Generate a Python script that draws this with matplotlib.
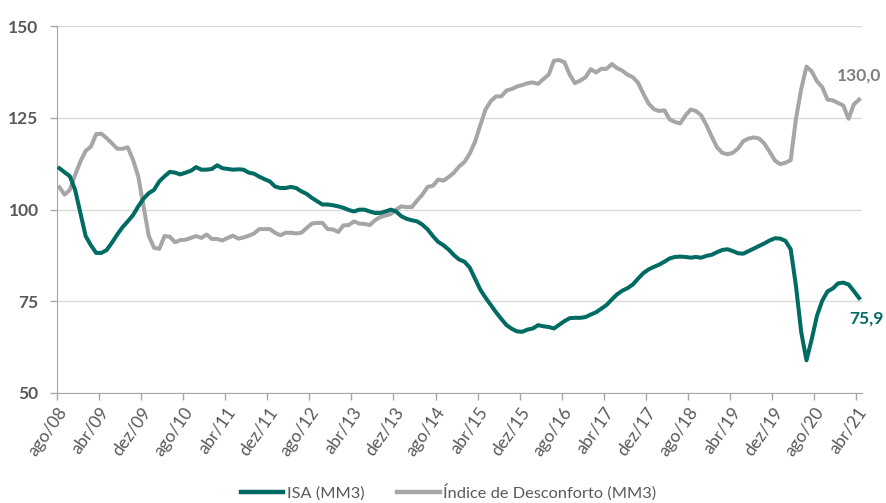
import matplotlib
matplotlib.use("Agg")
import matplotlib.pyplot as plt
from matplotlib.lines import Line2D

# ---------------- data ----------------
tick_labels = ["ago/08", "abr/09", "dez/09", "ago/10", "abr/11", "dez/11", "ago/12",
               "abr/13", "dez/13", "ago/14", "abr/15", "dez/15", "ago/16", "abr/17",
               "dez/17", "ago/18", "abr/19", "dez/19", "ago/20", "abr/21"]

isa = [111.3, 110.2, 109.1, 105.4, 99.1, 92.8, 90.3, 88.2, 88.2, 89.0,
       91.0, 93.2, 95.2, 96.8, 98.5, 100.9, 103.0, 104.5, 105.4, 107.7,
       109.1, 110.3, 110.1, 109.6, 110.1, 110.6, 111.6, 110.9, 110.9, 111.1,
       112.1, 111.3, 111.1, 110.9, 111.0, 110.9, 110.1, 109.8, 109.0, 108.3,
       107.7, 106.3, 105.9, 105.9, 106.2, 105.9, 105.0, 104.3, 103.2, 102.3,
       101.4, 101.4, 101.2, 100.9, 100.5, 99.9, 99.5, 100.0, 100.0, 99.5,
       99.1, 99.1, 99.5, 100.0, 99.5, 98.2, 97.5, 97.1, 96.8, 95.9,
       94.6, 92.8, 91.2, 90.3, 89.1, 87.6, 86.4, 85.8, 84.2, 81.2,
       78.2, 76.0, 74.0, 72.0, 70.2, 68.5, 67.5, 66.8, 66.7, 67.3,
       67.6, 68.5, 68.2, 68.0, 67.6, 68.6, 69.6, 70.4, 70.5, 70.5,
       70.7, 71.4, 72.0, 73.0, 74.0, 75.5, 76.9, 77.9, 78.6, 79.6,
       81.2, 82.7, 83.7, 84.4, 85.0, 85.8, 86.7, 87.1, 87.2, 87.1,
       86.9, 87.1, 86.9, 87.4, 87.7, 88.4, 89.0, 89.2, 88.7, 88.1,
       88.0, 88.7, 89.4, 90.1, 90.8, 91.6, 92.2, 92.1, 91.5, 89.2,
       79.2, 66.6, 58.9, 64.7, 71.1, 75.2, 77.7, 78.5, 79.9, 80.1,
       79.6, 77.8, 75.9]

desconforto = [106.1, 104.1, 105.4, 109.5, 113.1, 116.0, 117.2, 120.6, 120.7, 119.5,
               118.1, 116.6, 116.6, 117.0, 113.6, 109.1, 100.9, 92.8, 89.6, 89.3,
               92.8, 92.6, 91.1, 91.7, 91.8, 92.3, 92.8, 92.3, 93.2, 92.0,
               92.0, 91.6, 92.3, 92.9, 92.1, 92.4, 92.9, 93.5, 94.7, 94.7,
               94.7, 93.7, 93.0, 93.7, 93.7, 93.5, 93.7, 95.0, 96.2, 96.4,
               96.4, 94.7, 94.6, 93.9, 95.7, 95.8, 96.8, 96.2, 96.1, 95.8,
               97.1, 98.0, 98.4, 98.8, 100.0, 100.9, 100.7, 100.7, 102.5, 104.1,
               106.2, 106.5, 108.2, 107.9, 108.9, 110.1, 111.8, 113.0, 115.3, 118.5,
               123.0, 127.3, 129.6, 130.9, 130.9, 132.5, 132.9, 133.6, 134.0, 134.5,
               134.7, 134.3, 135.6, 136.8, 140.6, 140.8, 140.2, 136.8, 134.5, 135.2,
               136.1, 138.3, 137.4, 138.4, 138.4, 139.7, 138.6, 137.9, 136.8, 136.1,
               134.6, 131.6, 128.9, 127.4, 126.9, 127.1, 124.6, 123.9, 123.5, 125.7,
               127.3, 126.9, 125.7, 123.0, 119.9, 117.0, 115.5, 115.1, 115.5, 116.7,
               118.7, 119.4, 119.7, 119.4, 118.0, 115.8, 113.4, 112.4, 112.8, 113.5,
               124.8, 132.9, 139.0, 137.7, 135.0, 133.4, 130.0, 129.8, 129.1, 128.4,
               124.8, 128.7, 130.0]

series_names = ["ISA (MM3)", "Índice de Desconforto (MM3)"]
yticks = [50, 75, 100, 125, 150]
tick_step = 8

# ---------------- style ----------------
teal = "#006B63"
gray = "#A6A6A6"
text_gray = "#595959"
plt.rcParams['font.family'] = ['Lato', 'DejaVu Sans']

fig = plt.figure(figsize=(8.86, 5.03), dpi=100)
ax = fig.add_axes([0.064, 0.2187, 0.9086, 0.729])

x = list(range(len(isa)))
ax.plot(x, desconforto, color=gray, lw=2.9, solid_joinstyle='round', zorder=3)
ax.plot(x, isa, color=teal, lw=2.9, solid_joinstyle='round', zorder=4)

ax.set_xlim(-0.5, len(isa) - 0.5)
ax.set_ylim(50, 150)
ax.set_yticks(yticks)
ax.set_yticklabels([str(v) for v in yticks], fontsize=12.5, fontweight='bold', color=text_gray)
ax.grid(axis='y', color='#D9D9D9', lw=1.0, zorder=0)
ax.set_axisbelow(True)

xt = [i * tick_step - 0.5 for i in range(len(tick_labels))]
ax.set_xticks(xt)
ax.set_xticklabels(tick_labels, rotation=55, ha='right', rotation_mode='anchor',
                   fontsize=12.5, color=text_gray)
ax.tick_params(axis='x', length=5, color='#A6A6A6', width=1, pad=3)
ax.tick_params(axis='y', length=5, color='#A6A6A6', width=1, pad=8)

for s in ['top', 'right']:
    ax.spines[s].set_visible(False)
ax.spines['left'].set_color('#A6A6A6')
ax.spines['bottom'].set_color('#A6A6A6')

# end labels
ax.annotate(f"{desconforto[-1]:.1f}".replace('.', ','), (x[-1], desconforto[-1]),
            xytext=(0, 16), textcoords='offset pixels', ha='center', va='bottom',
            fontsize=12.5, fontweight='bold', color='#7F7F7F')
ax.annotate(f"{isa[-1]:.1f}".replace('.', ','), (x[-1], isa[-1]),
            xytext=(7, -12), textcoords='offset pixels', ha='center', va='top',
            fontsize=12.5, fontweight='bold', color=teal, annotation_clip=False)

handles = [Line2D([0], [0], color=teal, lw=3.2), Line2D([0], [0], color=gray, lw=3.2)]
fig.legend(handles, series_names, loc='center', bbox_to_anchor=(0.506, 0.022),
           ncol=2, frameon=False, fontsize=11.8, handlelength=2.6, handletextpad=0.2,
           columnspacing=2.0, labelcolor=text_gray)

fig.savefig("out.png", dpi=100)
